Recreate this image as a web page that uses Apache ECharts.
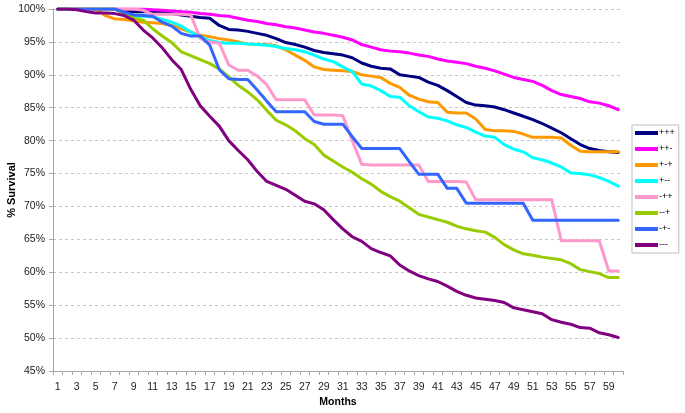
<!DOCTYPE html>
<html>
<head>
<meta charset="utf-8">
<script src="https://cdn.jsdelivr.net/npm/echarts@6/dist/echarts.min.js"></script>
<style>html,body{margin:0;padding:0;background:#fff;}#c{width:685px;height:413px;}</style>
</head>
<body>
<div id="c"></div>
<script>
var months = [];
for (var i = 1; i <= 60; i++) months.push(String(i));

var seriesNames = ['+++', '++-', '+-+', '+--', '-++', '--+', '-+-', '---'];

var s_ppp = [100,100,100,100,100,100,100,99.6,99.6,99.6,99.6,99.5,99.3,99.1,98.9,98.7,98.6,97.5,96.9,96.8,96.6,96.3,96.0,95.5,94.9,94.6,94.2,93.7,93.4,93.2,93.0,92.6,91.8,91.3,91.0,90.9,90.0,89.8,89.6,88.9,88.4,87.6,86.7,85.8,85.4,85.3,85.1,84.7,84.2,83.7,83.2,82.6,81.9,81.2,80.3,79.4,78.8,78.5,78.3,78.2];
var s_ppm = [100,100,100,100,100,100,100,100,100,100,99.9,99.8,99.7,99.6,99.5,99.3,99.2,99.0,98.9,98.6,98.3,98.1,97.8,97.6,97.3,97.1,96.8,96.5,96.3,96.0,95.7,95.3,94.6,94.2,93.8,93.6,93.5,93.3,93.0,92.8,92.4,92.1,91.9,91.7,91.3,91.0,90.6,90.1,89.6,89.3,89.0,88.4,87.6,87.0,86.7,86.4,85.9,85.7,85.3,84.7];
var s_pmp = [100,100,100,100,100,99.0,98.5,98.4,98.2,98.0,97.9,97.8,97.5,97.0,96.5,96.0,95.8,95.5,95.3,95.0,94.7,94.6,94.6,94.4,93.8,93.0,92.2,91.2,90.8,90.7,90.6,90.5,90.0,89.8,89.6,88.7,88.1,86.9,86.3,85.9,85.8,84.3,84.2,84.2,83.3,81.7,81.5,81.5,81.4,81.0,80.5,80.5,80.5,80.4,79.3,78.4,78.3,78.3,78.3,78.3];
var s_pmm = [100,100,100,100,100,100,100,99.3,98.9,98.9,98.8,98.4,98.0,97.4,96.5,95.8,95.2,94.9,94.8,94.8,94.7,94.6,94.5,94.3,94.0,93.8,93.5,93.0,92.4,92.0,91.2,90.5,88.6,88.3,87.6,86.7,86.6,85.3,84.4,83.6,83.4,83.0,82.4,82.0,81.3,80.7,80.5,79.4,78.7,78.3,77.4,77.1,76.6,76.0,75.1,75.0,74.8,74.4,73.8,73.1];
var s_mpp = [100,100,100,100,100,100,100,100,100,99.8,99.2,99.2,99.2,99.2,99.1,95.5,95.0,94.8,91.5,90.7,90.7,89.8,88.5,86.2,86.2,86.2,86.2,83.9,83.9,83.9,83.8,80.0,76.4,76.3,76.3,76.3,76.3,76.3,76.3,73.8,73.8,73.8,73.8,73.7,71.0,71.0,71.0,71.0,71.0,71.0,71.0,71.0,71.0,64.8,64.8,64.8,64.8,64.8,60.2,60.2];
var s_mmp = [100,100,100,100,100,100,100,99.2,98.6,98.3,97.0,95.9,94.9,93.5,92.9,92.3,91.7,90.9,89.7,88.4,87.4,86.2,84.6,83.1,82.4,81.5,80.3,79.4,77.8,76.9,76.0,75.2,74.2,73.4,72.3,71.5,70.8,69.8,68.8,68.4,68.0,67.6,67.0,66.6,66.3,66.1,65.3,64.2,63.4,62.8,62.6,62.3,62.1,61.9,61.3,60.4,60.1,59.8,59.2,59.2];
var s_mpm = [100,100,100,100,100,100,100,99.5,99.1,99.0,98.9,98.0,97.4,96.3,95.9,95.9,94.5,90.8,89.4,89.3,89.3,87.7,86.0,84.4,84.4,84.4,84.4,82.9,82.5,82.5,82.5,80.6,78.8,78.8,78.8,78.8,78.8,76.8,74.9,74.9,74.9,72.75,72.75,70.5,70.5,70.5,70.5,70.5,70.5,70.5,67.9,67.9,67.9,67.9,67.9,67.9,67.9,67.9,67.9,67.9];
var s_mmm = [100,100,99.9,99.6,99.4,99.4,99.3,99.0,98.3,96.8,95.6,94.1,92.3,90.8,87.8,85.3,83.7,82.2,80.0,78.5,77.1,75.3,73.8,73.2,72.6,71.7,70.8,70.4,69.5,68.0,66.6,65.4,64.7,63.6,63.0,62.5,61.1,60.2,59.5,59.0,58.6,57.9,57.1,56.5,56.1,55.9,55.7,55.4,54.6,54.3,54.0,53.7,52.8,52.4,52.1,51.6,51.5,50.8,50.5,50.1];

var seriesData = [s_ppp, s_ppm, s_pmp, s_pmm, s_mpp, s_mmp, s_mpm, s_mmm];
var colors = ['#000080', '#FF00FF', '#FF9900', '#00FFFF', '#FF99CC', '#99CC00', '#3366FF', '#800080'];

var yMin = 45, yMax = 100, yStep = 5;
var FONT = '"Liberation Sans", Arial, sans-serif';

var chart = echarts.init(document.getElementById('c'), null, {renderer: 'canvas'});
var series = seriesNames.map(function (n, i) {
  return {
    name: n,
    type: 'line',
    data: seriesData[i],
    showSymbol: false,
    symbol: 'none',
    animation: false,
    lineStyle: {width: 3, color: colors[i], join: 'round', cap: 'round'},
    itemStyle: {color: colors[i]}
  };
});

chart.setOption({
  animation: false,
  color: colors,
  grid: {left: 53, right: 62, top: 9, bottom: 42, containLabel: false, outerBoundsMode: 'none'},
  legend: {
    orient: 'vertical',
    left: 632,
    top: 125,
    padding: [3, 4, 3, 3],
    itemGap: 6,
    itemWidth: 23,
    itemHeight: 4,
    icon: 'rect',
    borderColor: '#bdbdbd',
    borderWidth: 1,
    data: seriesNames,
    textStyle: {fontFamily: FONT, fontSize: 9, color: '#000', lineHeight: 10, padding: [0, 0, 0, -4]}
  },
  xAxis: {
    type: 'category',
    data: months,
    boundaryGap: true,
    name: 'Months',
    nameLocation: 'middle',
    nameGap: 26,
    nameMoveOverlap: false,
    nameTextStyle: {fontFamily: FONT, fontSize: 10.5, fontWeight: 'bold', color: '#000'},
    axisLine: {lineStyle: {color: '#a6a6a6', width: 1}},
    axisTick: {show: true, interval: 0, length: 4, lineStyle: {color: '#a6a6a6'}},
    axisLabel: {interval: 1, margin: 11, fontFamily: FONT, fontSize: 10.5, color: '#222'},
    splitLine: {show: false}
  },
  yAxis: {
    type: 'value',
    min: yMin,
    max: yMax,
    interval: yStep,
    name: '% Survival',
    nameLocation: 'middle',
    nameGap: 36,
    nameRotate: 90,
    nameMoveOverlap: false,
    nameTextStyle: {fontFamily: FONT, fontSize: 11, fontWeight: 'bold', color: '#000'},
    axisLine: {show: true, lineStyle: {color: '#a6a6a6', width: 1}},
    axisTick: {show: true, length: 4, lineStyle: {color: '#a6a6a6'}},
    axisLabel: {margin: 8, fontFamily: FONT, fontSize: 10.5, color: '#222', formatter: '{value}%'},
    splitLine: {show: true, lineStyle: {color: '#c8c8c8', type: [3, 3], width: 1}}
  },
  series: series
});
</script>
</body>
</html>
